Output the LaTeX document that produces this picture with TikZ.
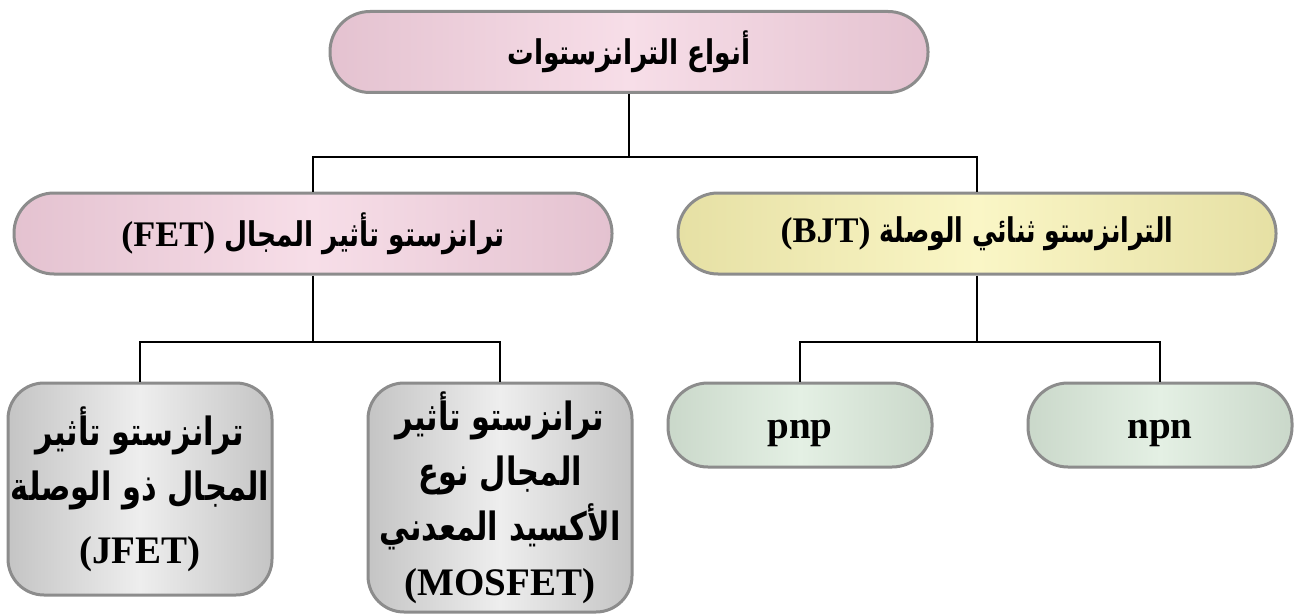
\documentclass[tikz,border=0pt]{standalone}
\usepackage{fontspec}
\usepackage{graphicx}
\setmainfont{Liberation Serif}
\newfontfamily\arabicfont[Script=Arabic]{DejaVu Sans}
\TeXXeTstate=1
\newcommand{\arx}{0.78}
\newcommand{\ar}[1]{\scalebox{\arx}[1]{\arabicfont\bfseries\beginR #1\endR}}
\newcommand{\lt}[1]{{\rmfamily\bfseries #1}}
\definecolor{edgegray}{RGB}{140,140,140}
\definecolor{pinkA}{RGB}{228,194,208}
\definecolor{pinkB}{RGB}{247,222,232}
\definecolor{yelA}{RGB}{230,224,164}
\definecolor{yelB}{RGB}{250,246,198}
\definecolor{grnA}{RGB}{202,216,202}
\definecolor{grnB}{RGB}{228,240,228}
\definecolor{gryA}{RGB}{196,196,196}
\definecolor{gryB}{RGB}{238,238,238}
\tikzset{
  box/.style={draw=edgegray, line width=3pt, rounded corners=40pt, align=center, inner sep=0pt},
  pinkbox/.style={box, left color=pinkA, right color=pinkA, middle color=pinkB},
  yelbox/.style={box, left color=yelA, right color=yelA, middle color=yelB},
  grnbox/.style={box, left color=grnA, right color=grnA, middle color=grnB},
  grybox/.style={box, rounded corners=36pt, left color=gryA, right color=gryA, middle color=gryB},
  wide/.style={minimum width=598pt, minimum height=81pt, font=\fontsize{36}{40}\selectfont},
  small/.style={minimum width=264pt, font=\fontsize{39}{55}\selectfont},
  link/.style={draw=black, line width=2pt}
}
\begin{document}
\begin{tikzpicture}[x=1pt,y=-1pt]
\useasboundingbox (0,0) rectangle (1312,615);
\node[pinkbox, wide] (top) at (629,52) {\fontsize{34}{40}\selectfont\ar{أنواع الترانزستوات}};
\node[pinkbox, wide] (fet) at (313,233.5) {\lt{(FET)}\ {\fontsize{34}{40}\selectfont\ar{ترانزستو تأثير المجال}}};
\node[yelbox, wide] (bjt) at (977,233.5) {\lt{(BJT)}\ {\fontsize{34}{40}\selectfont\renewcommand{\arx}{0.74}\ar{الترانزستو ثنائي الوصلة}}};
\node[grybox, small, minimum height=212pt] (jfet) at (140,489) {\ar{ترانزستو تأثير}\\ \ar{المجال ذو الوصلة}\\[8pt] \lt{(JFET)}};
\node[grybox, small, minimum height=229pt] (mosfet) at (500,497.5) {\ar{ترانزستو تأثير}\\ \ar{المجال نوع}\\ \ar{الأكسيد المعدني}\\ \lt{(MOSFET)}};
\node[grnbox, small, minimum height=84pt, text height=30pt, text depth=4pt] (pnp) at (800,425) {\lt{pnp}};
\node[grnbox, small, minimum height=84pt, text height=30pt, text depth=4pt] (npn) at (1160,425) {\lt{npn}};
\draw[link] (top.south) -- ++(0,63) coordinate (j1);
\draw[link] (fet.north) |- (j1) -| (bjt.north);
\draw[link] (fet.south) -- ++(0,66) coordinate (j2);
\draw[link] (jfet.north) |- (j2) -| (mosfet.north);
\draw[link] (bjt.south) -- ++(0,66) coordinate (j3);
\draw[link] (pnp.north) |- (j3) -| (npn.north);
\end{tikzpicture}
\end{document}
